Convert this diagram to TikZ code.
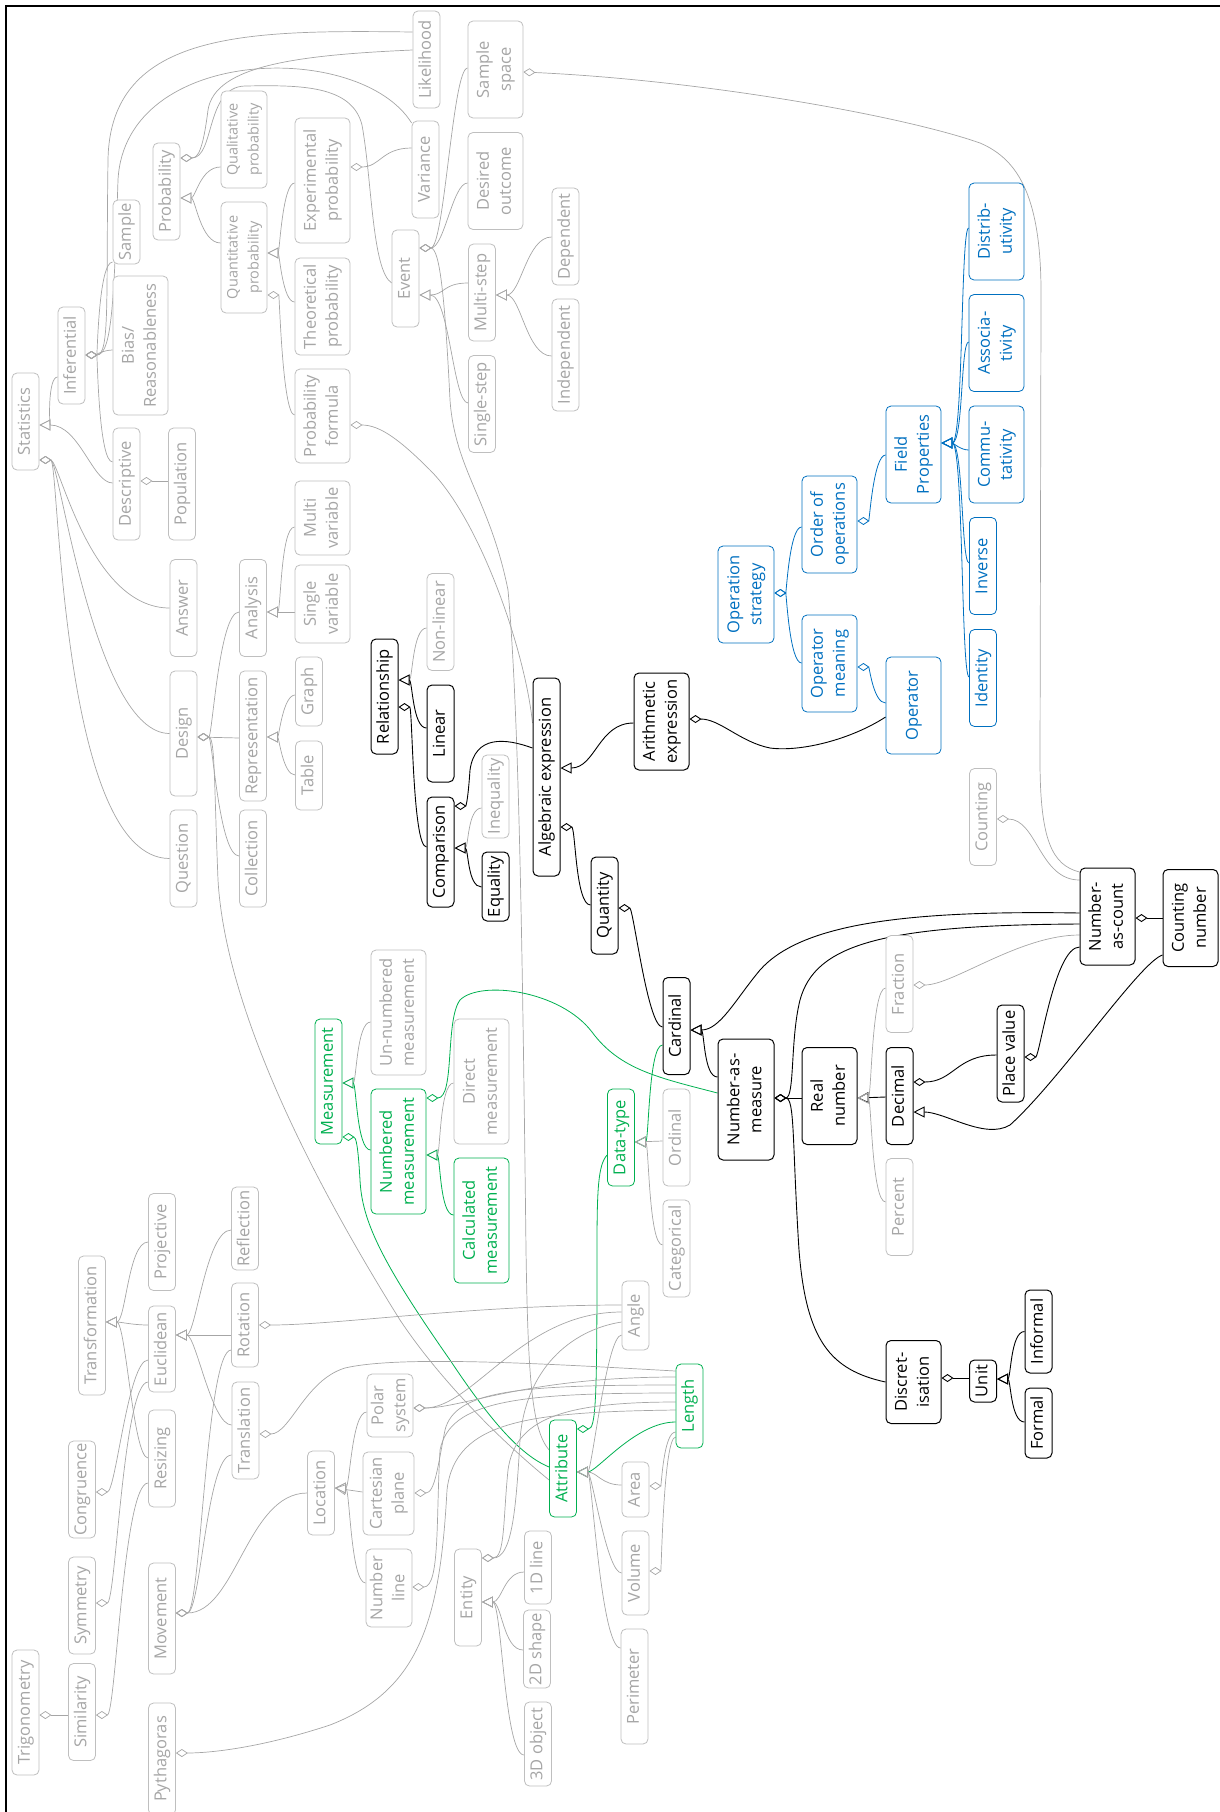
\documentclass[tikz,border=0pt]{standalone}
\usepackage{fontspec}
\setmainfont{Open Sans}
\usetikzlibrary{arrows.meta}
\pgfdeclarelayer{background}
\pgfsetlayers{background,main}
\definecolor{lgray}{HTML}{A6A6A6}
\definecolor{bgray}{HTML}{BFBFBF}
\definecolor{mgreen}{HTML}{00B050}
\definecolor{mblue}{HTML}{0070C0}
\newcommand{\vtext}[1]{\rotatebox{90}{\begin{tabular}{@{}c@{}}#1\end{tabular}}}

\begin{document}
\begin{tikzpicture}[x=1pt,y=-1pt,
  cbox/.style={draw, rounded corners=5pt, fill=white, inner sep=1pt, font=\fontsize{16.5}{22}\selectfont, minimum width=27, minimum height=97},
  greybox/.style={cbox, draw=bgray, text=lgray, line width=0.8pt},
  blackbox/.style={cbox, draw=black, text=black, line width=1pt},
  greenbox/.style={cbox, draw=mgreen, text=mgreen, line width=0.8pt},
  bluebox/.style={cbox, draw=mblue, text=mblue, line width=0.8pt},
  greyline/.style={draw=lgray, line width=0.7pt},
  blackline/.style={draw=black, line width=0.9pt},
  greenline/.style={draw=mgreen, line width=0.8pt},
  blueline/.style={draw=mblue, line width=0.8pt},
  gen/.style={-{Triangle[open,length=11pt,width=11pt]}},
  agg/.style={-{Diamond[open,length=12pt,width=8pt]}}]
\useasboundingbox (0,0) rectangle (1219,1812);
\draw[line width=2pt] (6,6) rectangle (1240,1830);

\node[greybox] (stat) at (25.5,421.5) {\vtext{Statistics}};
\node[greybox] (infer) at (71.5,355.5) {\vtext{Inferential}};
\node[greybox, minimum height=64] (sample) at (126.5,232) {\vtext{Sample}};
\node[greybox, minimum width=55, minimum height=139] (bias) at (140.5,345.5) {\vtext{Bias/\\Reasonableness}};
\node[greybox, minimum height=112] (descr) at (126.5,484) {\vtext{Descriptive}};
\node[greybox, minimum height=112] (popul) at (182,484) {\vtext{Population}};
\node[greybox] (prob) at (166.5,191.5) {\vtext{Probability}};
\node[greybox, minimum width=46, font=\fontsize{14.5}{21}\selectfont] (qualp) at (244,139.5) {\vtext{Qualitative\\probability}};
\node[greybox, minimum width=46, minimum height=111, font=\fontsize{14.5}{21}\selectfont] (quantp) at (244,257.5) {\vtext{Quantitative\\probability}};
\node[greybox, minimum width=55, minimum height=125] (expp) at (322.5,180.5) {\vtext{Experimental\\probability}};
\node[greybox, minimum width=55] (theop) at (322.5,306.5) {\vtext{Theoretical\\probability}};
\node[greybox, minimum width=55, minimum height=94] (pform) at (322.5,416) {\vtext{Probability\\formula}};
\node[greybox] (likel) at (426.5,59.5) {\vtext{Likelihood}};
\node[greybox] (varia) at (425.5,169.5) {\vtext{Variance}};
\node[greybox, minimum width=55] (sspace) at (495.5,69.5) {\vtext{Sample\\space}};
\node[greybox, minimum width=55] (desout) at (495.5,181) {\vtext{Desired\\outcome}};
\node[greybox] (event) at (405.5,278.5) {\vtext{Event}};
\node[greybox] (mstep) at (482,292.5) {\vtext{Multi-step}};
\node[greybox] (sstep) at (482,404) {\vtext{Single-step}};
\node[greybox] (depend) at (565.5,236.5) {\vtext{Dependent}};
\node[greybox, minimum height=112] (indep) at (565.5,355) {\vtext{Independent}};
\node[greybox] (answer) at (183.5,608) {\vtext{Answer}};
\node[greybox, minimum height=125] (design) at (183.5,733.5) {\vtext{Design}};
\node[greybox] (quest) at (183.5,858.5) {\vtext{Question}};
\node[greybox] (analys) at (253,608) {\vtext{Analysis}};
\node[greybox, minimum height=130] (repres) at (253,736) {\vtext{Representation}};
\node[greybox] (collec) at (253,858.5) {\vtext{Collection}};
\node[greybox, minimum width=55, minimum height=74] (mvar) at (322.5,518) {\vtext{Multi\\variable}};
\node[greybox, minimum width=55, minimum height=78] (svar) at (322.5,604) {\vtext{Single\\variable}};
\node[greybox, minimum height=69] (graph) at (309,691.5) {\vtext{Graph}};
\node[greybox, minimum height=69] (table) at (309,775.5) {\vtext{Table}};
\node[greybox] (nonlin) at (440.5,622) {\vtext{Non-linear}};
\node[greybox, minimum height=83] (inequ) at (495.5,796.5) {\vtext{Inequality}};
\node[greybox, minimum width=55, minimum height=125] (unnum) at (398.5,1012.5) {\vtext{Un-numbered\\measurement}};
\node[greybox, minimum width=55, minimum height=125] (direct) at (481.5,1081.5) {\vtext{Direct\\measurement}};
\node[greybox] (ordin) at (676.5,1137.5) {\vtext{Ordinal}};
\node[greybox] (categ) at (676.5,1248.5) {\vtext{Categorical}};
\node[greybox] (fract) at (899.5,984) {\vtext{Fraction}};
\node[greybox] (percent) at (899.5,1207) {\vtext{Percent}};
\node[greybox] (count) at (983,817) {\vtext{Counting}};
\node[greybox, minimum height=69] (angle) at (635.5,1315.5) {\vtext{Angle}};
\node[greybox, minimum height=55] (area) at (635.5,1489.5) {\vtext{Area}};
\node[greybox, minimum height=84] (volume) at (635.5,1573) {\vtext{Volume}};
\node[greybox, minimum height=115] (perim) at (634.5,1686.5) {\vtext{Perimeter}};
\node[greybox] (entity) at (468,1597.5) {\vtext{Entity}};
\node[greybox, minimum height=73] (line1) at (538,1567.5) {\vtext{1D line}};
\node[greybox, minimum height=78] (shape2) at (537,1649) {\vtext{2D shape}};
\node[greybox, minimum height=84] (obj3) at (538,1744) {\vtext{3D object}};
\node[greybox, minimum height=139] (transf) at (92,1325.5) {\vtext{Transformation}};
\node[greybox] (project) at (162,1242) {\vtext{Projective}};
\node[greybox, minimum height=86] (euclid) at (162,1349) {\vtext{Euclidean}};
\node[greybox, minimum height=83] (reflect) at (245,1228.5) {\vtext{Reflection}};
\node[greybox, minimum height=84] (rotat) at (245,1325) {\vtext{Rotation}};
\node[greybox] (transl) at (245.5,1430.5) {\vtext{Translation}};
\node[greybox] (resize) at (162,1458.5) {\vtext{Resizing}};
\node[greybox] (congr) at (82,1489.5) {\vtext{Congruence}};
\node[greybox] (symm) at (82,1605.5) {\vtext{Symmetry}};
\node[greybox] (simil) at (82,1712) {\vtext{Similarity}};
\node[greybox, minimum height=125] (trigo) at (25.5,1712.5) {\vtext{Trigonometry}};
\node[greybox, minimum height=111] (movem) at (162,1618.5) {\vtext{Movement}};
\node[greybox, minimum height=112] (pytha) at (162,1759) {\vtext{Pythagoras}};
\node[greybox, minimum height=84] (locat) at (321,1493) {\vtext{Location}};
\node[greybox, minimum width=46, minimum height=63] (polar) at (390,1405.5) {\vtext{Polar\\system}};
\node[greybox, minimum width=51, minimum height=83] (cartes) at (388.5,1493.5) {\vtext{Cartesian\\plane}};
\node[greybox, minimum width=46, minimum height=78] (numline) at (389,1588) {\vtext{Number\\line}};

\node[blackbox, minimum height=115] (relat) at (384.5,696.5) {\vtext{Relationship}};
\node[blackbox] (linear) at (440.5,733.5) {\vtext{Linear}};
\node[blackbox, minimum height=110] (compar) at (440.5,852) {\vtext{Comparison}};
\node[blackbox, minimum height=69] (equal) at (495.5,886.5) {\vtext{Equality}};
\node[blackbox, minimum height=198] (algeb) at (546.5,777) {\vtext{Algebraic expression}};
\node[blackbox, minimum width=55] (arith) at (661.5,721.5) {\vtext{Arithmetic\\expression}};
\node[blackbox] (quant) at (604.5,905.5) {\vtext{Quantity}};
\node[blackbox] (cardin) at (676.5,1026) {\vtext{Cardinal}};
\node[blackbox, minimum width=56, minimum height=121] (nmeas) at (746,1099.5) {\vtext{Number-as-\\measure}};
\node[blackbox, minimum width=55] (realn) at (829.5,1096) {\vtext{Real\\number}};
\node[blackbox] (decim) at (899.5,1096) {\vtext{Decimal}};
\node[blackbox] (placev) at (1010.5,1053.5) {\vtext{Place value}};
\node[blackbox, minimum width=55] (ncount) at (1107.5,916.5) {\vtext{Number-\\as-count}};
\node[blackbox, minimum width=55] (cnumb) at (1190.5,918) {\vtext{Counting\\number}};
\node[blackbox, minimum width=55, minimum height=83] (discr) at (913.5,1382) {\vtext{Discret-\\isation}};
\node[blackbox, minimum height=42] (unit) at (983,1381) {\vtext{Unit}};
\node[blackbox, minimum height=83] (inform) at (1038.5,1331.5) {\vtext{Informal}};
\node[blackbox, minimum height=70] (formal) at (1038.5,1423) {\vtext{Formal}};

\node[greenbox, minimum height=125] (measur) at (328.5,1081.5) {\vtext{Measurement}};
\node[greenbox, minimum width=55, minimum height=125] (numbm) at (398.5,1151.5) {\vtext{Numbered\\measurement}};
\node[greenbox, minimum width=55, minimum height=125] (calcm) at (481.5,1220.5) {\vtext{Calculated\\measurement}};
\node[greenbox] (datat) at (621,1137.5) {\vtext{Data-type}};
\node[greenbox] (attrib) at (563,1468.5) {\vtext{Attribute}};
\node[greenbox, minimum height=84] (length) at (689.5,1406) {\vtext{Length}};

\node[bluebox, minimum width=56] (opstrat) at (746,594.5) {\vtext{Operation\\strategy}};
\node[bluebox, minimum width=55] (order) at (829.5,524.5) {\vtext{Order of\\operations}};
\node[bluebox, minimum width=55] (opmean) at (829.5,663.5) {\vtext{Operator\\meaning}};
\node[bluebox, minimum width=55] (operat) at (913.5,705.5) {\vtext{Operator}};
\node[bluebox, minimum width=55] (field) at (913.5,454.5) {\vtext{Field\\Properties}};
\node[bluebox, minimum width=55] (distr) at (996.5,231.5) {\vtext{Distrib-\\utivity}};
\node[bluebox, minimum width=55] (assoc) at (996.5,343) {\vtext{Associa-\\tivity}};
\node[bluebox, minimum width=55] (commu) at (996.5,454.5) {\vtext{Commu-\\tativity}};
\node[bluebox] (invers) at (983,566) {\vtext{Inverse}};
\node[bluebox] (ident) at (983,678) {\vtext{Identity}};

\begin{pgfonlayer}{background}
\draw[greyline,gen] (infer.west |- 0,377) .. controls +(-10,0) and +(10,0) .. (stat.east |- 0,425);
\draw[greyline,gen] (descr.west |- 0,483) .. controls +(-20,0) and +(40,0) .. (stat.east |- 0,425);
\draw[greyline,agg] (answer.west) .. controls +(-80,0) and +(20,0) .. (stat.east |- 0,460);
\draw[greyline,agg] (design.west) .. controls +(-75,0) and +(20,0) .. (stat.east |- 0,460);
\draw[greyline,agg] (quest.west) .. controls +(-110,0) and +(20,0) .. (stat.east |- 0,460);
\draw[greyline,agg] (popul.west |- 0,481) -- (descr.east |- 0,481);
\draw[greyline,agg] (bias.west |- 0,350) .. controls +(-8,0) and +(8,0) .. (infer.east |- 0,355);
\draw[greyline,agg] (sample.west |- 0,262) .. controls +(-14,0) and +(12,0) .. (infer.east |- 0,355);
\draw[greyline,agg] (descr.west |- 0,462) .. controls +(-14,0) and +(12,0) .. (infer.east |- 0,355);
\draw[greyline,agg] (likel.west |- 0,32) .. controls (250,30) and (110,30) .. (108,160) .. controls (106,300) and (110,355) .. (infer.east |- 0,355);
\draw[greyline,agg] (varia.west |- 0,123) .. controls (360,40) and (125,45) .. (118,180) .. controls (114,300) and (112,355) .. (infer.east |- 0,355);

\draw[greyline,gen] (qualp.west |- 0,167) .. controls +(-20,0) and +(15,0) .. (prob.east |- 0,198);
\draw[greyline,gen] (quantp.west |- 0,243) .. controls +(-20,0) and +(15,0) .. (prob.east |- 0,198);
\draw[greyline,gen] (expp.west |- 0,183) .. controls +(-12,0) and +(12,0) .. (quantp.east |- 0,253);
\draw[greyline,gen] (theop.west |- 0,302) .. controls +(-12,0) and +(12,0) .. (quantp.east |- 0,253);
\draw[greyline,agg] (pform.west |- 0,415) .. controls +(-12,0) and +(12,0) .. (quantp.east |- 0,295);
\draw[greyline,agg] (varia.west |- 0,148) .. controls +(-30,0) and +(30,0) .. (expp.east |- 0,167);
\draw[greyline,agg] (likel.west |- 0,50) .. controls (300,55) and (215,65) .. (208,110) .. controls (203,150) and (198,158) .. (prob.east |- 0,158);
\draw[greyline,agg] (event.west |- 0,283) .. controls (372,270) and (372,180) .. (362,125) .. controls (352,85) and (300,85) .. (245,86) .. controls (205,87) and (215,158) .. (prob.east |- 0,158);

\draw[greyline,gen] (mstep.west |- 0,283) .. controls +(-25,0) and +(25,0) .. (event.east |- 0,295);
\draw[greyline,gen] (sstep.west |- 0,403) .. controls +(-15,0) and +(30,0) .. (event.east |- 0,295);
\draw[greyline,gen] (depend.west |- 0,237) .. controls +(-25,0) and +(25,0) .. (mstep.east |- 0,295);
\draw[greyline,gen] (indep.west |- 0,356) .. controls +(-25,0) and +(25,0) .. (mstep.east |- 0,295);
\draw[greyline,agg] (sspace.west |- 0,68) .. controls +(-15,0) and +(25,0) .. (event.east |- 0,248);
\draw[greyline,agg] (desout.west |- 0,183) .. controls +(-15,0) and +(25,0) .. (event.east |- 0,248);
\draw[greyline,agg] (attrib.west |- 0,1450) .. controls (532,1430) and (528,1380) .. (526,1250) .. controls (522,900) and (518,700) .. (508,590) .. controls (490,500) and (455,470) .. (450,400) .. controls (445,300) and (440,248) .. (event.east |- 0,248);
\draw[greyline,agg] (ncount.west |- 0,872) .. controls (1052,865) and (1040,840) .. (1040,760) -- (1041,300) .. controls (1042,200) and (1020,160) .. (980,143) .. controls (900,115) and (700,80) .. (sspace.east |- 0,72);

\draw[greyline,agg] (analys.west |- 0,612) .. controls +(-20,0) and +(15,0) .. (design.east |- 0,737);
\draw[greyline,agg] (repres.west |- 0,738) -- (design.east |- 0,737);
\draw[greyline,agg] (collec.west |- 0,856) .. controls +(-20,0) and +(15,0) .. (design.east |- 0,737);
\draw[greyline,agg] (attrib.west |- 0,1480) .. controls (500,1440) and (440,1380) .. (400,1320) .. controls (300,1160) and (225,1000) .. (218,880) .. controls (214,780) and (215,737) .. (design.east |- 0,737);
\draw[greyline,gen] (mvar.west |- 0,527) .. controls +(-14,0) and +(14,0) .. (analys.east |- 0,612);
\draw[greyline,gen] (svar.west |- 0,612) -- (analys.east |- 0,612);
\draw[greyline,gen] (graph.west |- 0,695) .. controls +(-12,0) and +(12,0) .. (repres.east |- 0,737);
\draw[greyline,gen] (table.west |- 0,775) .. controls +(-12,0) and +(12,0) .. (repres.east |- 0,737);

\draw[greyline,gen] (nonlin.west |- 0,628) .. controls +(-14,0) and +(14,0) .. (relat.east |- 0,680);
\draw[blackline,gen] (linear.west |- 0,728) .. controls +(-14,0) and +(14,0) .. (relat.east |- 0,680);
\draw[blackline,agg] (compar.west |- 0,847) .. controls +(-14,0) and +(14,0) .. (relat.east |- 0,707);
\draw[greyline,gen] (inequ.west |- 0,808) .. controls +(-14,0) and +(14,0) .. (compar.east |- 0,848);
\draw[blackline,gen] (equal.west |- 0,887) .. controls +(-14,0) and +(14,0) .. (compar.east |- 0,848);
\draw[blackline,agg] (algeb.west |- 0,748) .. controls (505,738) and (475,735) .. (470,770) .. controls (468,800) and (466,806) .. (compar.east |- 0,806);
\draw[blackline,gen] (arith.west |- 0,723) .. controls +(-35,0) and +(35,0) .. (algeb.east |- 0,768);
\draw[greyline,agg] (algeb.west |- 0,723) .. controls (525,650) and (480,520) .. (430,470) .. controls (400,440) and (380,425) .. (pform.east |- 0,425);
\draw[blackline,agg] (quant.west |- 0,905) .. controls +(-15,0) and +(15,0) .. (algeb.east |- 0,827);
\draw[blackline,agg] (cardin.west |- 0,1027) .. controls +(-15,0) and +(15,0) .. (quant.east |- 0,908);
\draw[blackline,gen] (nmeas.west |- 0,1077) .. controls +(-14,0) and +(14,0) .. (cardin.east |- 0,1030);
\draw[blackline,gen] (ncount.west |- 0,913) .. controls (900,910) and (800,925) .. (760,970) .. controls (735,1000) and (720,1030) .. (cardin.east |- 0,1030);
\draw[blackline,agg] (ncount.west |- 0,924) .. controls (880,925) and (815,945) .. (800,1000) .. controls (790,1040) and (795,1098) .. (nmeas.east |- 0,1098);
\draw[blackline,agg] (realn.west |- 0,1098) -- (nmeas.east |- 0,1098);
\draw[blackline,agg] (discr.west |- 0,1382) .. controls (830,1370) and (806,1340) .. (799,1250) .. controls (792,1140) and (795,1098) .. (nmeas.east |- 0,1098);
\draw[blackline,gen] (decim.west |- 0,1097) -- (realn.east |- 0,1098);
\draw[greyline,gen] (fract.west |- 0,988) .. controls +(-14,0) and +(14,0) .. (realn.east |- 0,1098);
\draw[greyline,gen] (percent.west |- 0,1202) .. controls +(-14,0) and +(14,0) .. (realn.east |- 0,1098);
\draw[blackline,agg] (placev.west |- 0,1055) .. controls +(-40,0) and +(40,0) .. (decim.east |- 0,1082);
\draw[blackline,gen] (cnumb.west |- 0,955) .. controls (1140,962) and (1060,1080) .. (1010,1125) .. controls (985,1140) and (945,1112) .. (decim.east |- 0,1112);
\draw[blackline,agg] (ncount.west |- 0,947) .. controls +(-25,0) and +(15,0) .. (placev.east |- 0,1057);
\draw[greyline,agg] (ncount.west |- 0,935) .. controls +(-60,0) and +(40,0) .. (fract.east |- 0,985);
\draw[blackline,agg] (cnumb.west |- 0,918) -- (ncount.east |- 0,918);
\draw[greyline,agg] (ncount.west |- 0,880) .. controls +(-40,0) and +(40,0) .. (count.east |- 0,819);
\draw[blackline,agg] (unit.west |- 0,1378) -- (discr.east |- 0,1378);
\draw[blackline,gen] (inform.west) .. controls +(-14,0) and +(14,0) .. (unit.east |- 0,1379);
\draw[blackline,gen] (formal.west |- 0,1422) .. controls +(-14,0) and +(14,0) .. (unit.east |- 0,1379);

\draw[greyline,gen] (unnum.west |- 0,1022) .. controls +(-14,0) and +(14,0) .. (measur.east |- 0,1083);
\draw[greenline,gen] (numbm.west |- 0,1150) .. controls +(-14,0) and +(14,0) .. (measur.east |- 0,1083);
\draw[greyline,gen] (direct.west |- 0,1083) .. controls +(-14,0) and +(14,0) .. (numbm.east |- 0,1155);
\draw[greenline,gen] (calcm.west |- 0,1215) .. controls +(-14,0) and +(14,0) .. (numbm.east |- 0,1155);
\draw[greenline,agg] (nmeas.west |- 0,1093) .. controls (660,1078) and (620,1070) .. (592,1032) .. controls (560,990) and (480,980) .. (460,1000) .. controls (445,1020) and (455,1098) .. (numbm.east |- 0,1098);
\draw[greenline,agg] (attrib.west |- 0,1467) .. controls (520,1455) and (490,1420) .. (450,1360) .. controls (380,1260) and (362,1220) .. (360,1180) .. controls (358,1145) and (356,1137) .. (measur.east |- 0,1137);
\draw[greenline,agg] (datat.west |- 0,1155) .. controls (598,1165) and (597,1190) .. (597,1250) .. controls (597,1400) and (596,1429) .. (attrib.east |- 0,1429);
\draw[greenline,gen] (cardin.west |- 0,1045) .. controls +(-14,0) and +(14,0) .. (datat.east |- 0,1142);
\draw[greyline,gen] (ordin.west |- 0,1141) -- (datat.east |- 0,1142);
\draw[greyline,gen] (categ.west |- 0,1245) .. controls +(-14,0) and +(14,0) .. (datat.east |- 0,1142);
\draw[greenline,gen] (length.west |- 0,1422) .. controls +(-40,0) and +(20,0) .. (attrib.east |- 0,1472);
\draw[greyline,gen] (area.west |- 0,1485) .. controls +(-20,0) and +(20,0) .. (attrib.east |- 0,1472);
\draw[greyline,gen] (volume.west |- 0,1573) .. controls +(-15,0) and +(15,0) .. (attrib.east |- 0,1472);
\draw[greyline,gen] (perim.west |- 0,1648) .. controls +(-20,0) and +(15,0) .. (attrib.east |- 0,1472);
\draw[greyline,gen] (angle.west |- 0,1335) .. controls +(-15,0) and +(15,0) .. (attrib.east |- 0,1472);
\draw[greyline,agg] (length.west |- 0,1432) .. controls +(-12,0) and +(12,0) .. (area.east |- 0,1486);
\draw[greyline,agg] (length.west |- 0,1437) .. controls +(-12,0) and +(12,0) .. (volume.east |- 0,1571);

\draw[greyline,agg] (length.west |- 0,1371) .. controls (550,1364) and (400,1355) .. (345,1368) .. controls (305,1380) and (290,1434) .. (transl.east |- 0,1434);
\draw[greyline,agg] (length.west |- 0,1377) .. controls +(-150,0) and +(50,0) .. (polar.east |- 0,1408);
\draw[greyline,agg] (length.west |- 0,1385) .. controls (520,1385) and (455,1390) .. (445,1430) .. controls (438,1465) and (435,1493) .. (cartes.east |- 0,1493);
\draw[greyline,agg] (length.west |- 0,1393) .. controls (520,1393) and (450,1400) .. (440,1450) .. controls (436,1520) and (440,1587) .. (numline.east |- 0,1587);
\draw[greyline,agg] (length.west |- 0,1402) .. controls (560,1402) and (515,1420) .. (508,1470) .. controls (503,1520) and (505,1558) .. (entity.east |- 0,1558);
\draw[greyline,agg] (length.west |- 0,1410) .. controls (530,1412) and (455,1420) .. (447,1490) .. controls (440,1620) and (420,1690) .. (330,1725) .. controls (260,1748) and (210,1753) .. (pytha.east |- 0,1753);
\draw[greyline,agg] (angle.west |- 0,1305) .. controls +(-150,0) and +(80,0) .. (rotat.east |- 0,1325);
\draw[greyline,agg] (angle.west |- 0,1312) .. controls +(-100,0) and +(60,0) .. (polar.east |- 0,1408);
\draw[greyline,agg] (angle.west |- 0,1322) .. controls (570,1330) and (525,1370) .. (520,1440) .. controls (516,1510) and (512,1558) .. (entity.east |- 0,1558);

\draw[greyline,gen] (euclid.west |- 0,1325) .. controls +(-15,0) and +(15,0) .. (transf.east |- 0,1322);
\draw[greyline,gen] (project.west |- 0,1242) .. controls +(-20,0) and +(20,0) .. (transf.east |- 0,1322);
\draw[greyline,gen] (resize.west |- 0,1458) .. controls +(-15,0) and +(20,0) .. (transf.east |- 0,1322);
\draw[greyline,gen] (rotat.west |- 0,1335) -- (euclid.east |- 0,1335);
\draw[greyline,gen] (reflect.west |- 0,1230) .. controls +(-25,0) and +(20,0) .. (euclid.east |- 0,1335);
\draw[greyline,gen] (transl.west |- 0,1425) .. controls +(-20,0) and +(20,0) .. (euclid.east |- 0,1335);
\draw[greyline,agg] (euclid.west |- 0,1360) .. controls +(-20,0) and +(20,0) .. (congr.east |- 0,1492);
\draw[greyline,agg] (euclid.west |- 0,1382) .. controls +(-25,0) and +(20,0) .. (symm.east |- 0,1603);
\draw[greyline,agg] (resize.west |- 0,1483) .. controls +(-25,0) and +(20,0) .. (simil.east |- 0,1715);
\draw[greyline,agg] (simil.west |- 0,1715) -- (trigo.east |- 0,1715);
\draw[greyline,agg] (rotat.west |- 0,1350) .. controls +(-25,0) and +(25,0) .. (movem.east |- 0,1613);
\draw[greyline,agg] (transl.west |- 0,1455) .. controls +(-25,0) and +(25,0) .. (movem.east |- 0,1613);
\draw[greyline,agg] (locat.west |- 0,1493) .. controls +(-60,0) and +(60,0) .. (movem.east |- 0,1613);
\draw[greyline,gen] (cartes.west |- 0,1492) -- (locat.east |- 0,1488);
\draw[greyline,gen] (polar.west |- 0,1412) .. controls +(-15,0) and +(15,0) .. (locat.east |- 0,1488);
\draw[greyline,gen] (numline.west |- 0,1583) .. controls +(-15,0) and +(15,0) .. (locat.east |- 0,1488);
\draw[greyline,gen] (line1.west |- 0,1572) .. controls +(-20,0) and +(20,0) .. (entity.east |- 0,1602);
\draw[greyline,gen] (shape2.west |- 0,1650) .. controls +(-20,0) and +(20,0) .. (entity.east |- 0,1602);
\draw[greyline,gen] (obj3.west |- 0,1755) .. controls +(-20,0) and +(20,0) .. (entity.east |- 0,1602);

\draw[blueline,gen] (distr.west |- 0,228) .. controls +(-8,0) and +(22,0) .. (field.east |- 0,443);
\draw[blueline,gen] (assoc.west |- 0,342) .. controls +(-8,0) and +(22,0) .. (field.east |- 0,443);
\draw[blueline,gen] (commu.west |- 0,450) .. controls +(-8,0) and +(12,0) .. (field.east |- 0,443);
\draw[blueline,gen] (invers.west |- 0,563) .. controls +(-8,0) and +(22,0) .. (field.east |- 0,443);
\draw[blueline,gen] (ident.west |- 0,677) .. controls +(-8,0) and +(22,0) .. (field.east |- 0,443);
\draw[blueline,agg] (field.west |- 0,455) .. controls +(-12,0) and +(12,0) .. (order.east |- 0,521);
\draw[blueline,agg] (order.west |- 0,527) .. controls +(-12,0) and +(12,0) .. (opstrat.east |- 0,593);
\draw[blueline,agg] (opmean.west |- 0,663) .. controls +(-12,0) and +(12,0) .. (opstrat.east |- 0,593);
\draw[blueline,agg] (operat.west |- 0,703) .. controls +(-12,0) and +(12,0) .. (opmean.east |- 0,667);
\draw[blackline,agg] (operat.west |- 0,717) .. controls (850,740) and (800,752) .. (770,748) .. controls (740,742) and (720,719) .. (arith.east |- 0,719);
\end{pgfonlayer}
\end{tikzpicture}
\end{document}
